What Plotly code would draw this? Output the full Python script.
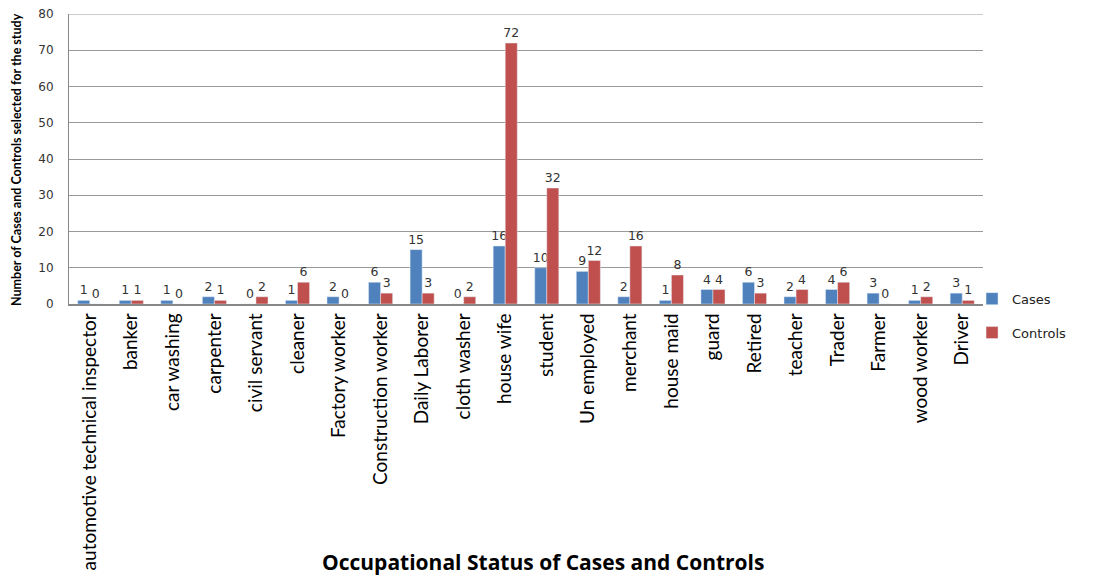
import plotly.graph_objects as go

categories = ["automotive technical inspector", "banker", "car washing", "carpenter",
              "civil servant", "cleaner", "Factory worker", "Construction worker",
              "Daily Laborer", "cloth washer", "house wife", "student", "Un employed",
              "merchant", "house maid", "guard", "Retired", "teacher", "Trader",
              "Farmer", "wood worker", "Driver"]
cases = [1, 1, 1, 2, 0, 1, 2, 6, 15, 0, 16, 10, 9, 2, 1, 4, 6, 2, 4, 3, 1, 3]
controls = [0, 1, 0, 1, 2, 6, 0, 3, 3, 2, 72, 32, 12, 16, 8, 4, 3, 4, 6, 0, 2, 1]
y_ticks = [0, 10, 20, 30, 40, 50, 60, 70, 80]

BLUE = "#4F81BD"
RED = "#C0504D"
label_font = dict(family="DejaVu Sans", size=12.5, color="#333333")

fig = go.Figure()
fig.add_trace(go.Bar(x=categories, y=cases, name="Cases", marker_color=BLUE,
                     legendgroup="cases",
                     text=cases, textposition="outside", textfont=label_font,
                     constraintext="none", cliponaxis=False))
fig.add_trace(go.Bar(x=categories, y=controls, name="Controls", marker_color=RED,
                     legendgroup="controls",
                     text=controls, textposition="outside", textfont=label_font,
                     constraintext="none", cliponaxis=False))

W, H = 1095, 577
fig.update_layout(
    width=W, height=H,
    margin=dict(l=61, r=120, t=6, b=281),
    paper_bgcolor="white", plot_bgcolor="white",
    barmode="group", bargap=0.42, bargroupgap=0,
    font=dict(family="Lato", color="#000000"),
    showlegend=True,
    legend=dict(x=0.988, y=0.07, xanchor="left", yanchor="top",
                font=dict(family="DejaVu Sans", size=13, color="#222222"),
                tracegroupgap=14, itemwidth=30, bgcolor="rgba(0,0,0,0)"),
)
fig.update_xaxes(
    tickangle=-90, tickfont=dict(family="Lato", size=19, color="#000000"),
    showline=True, linecolor="#888888", linewidth=1.5,
    showgrid=False, ticks="", automargin=False,
)
fig.update_yaxes(
    range=[0, 80], tickvals=y_ticks, tickfont=dict(family="DejaVu Sans", size=12, color="#333333"),
    ticklabelstandoff=12, ticklabeloverflow="allow",
    showgrid=True, gridcolor="#999999", gridwidth=1,
    showline=True, linecolor="#888888", linewidth=1, mirror=False,
    zeroline=False, ticks="", automargin=False,
)
fig.add_shape(type="line", xref="paper", yref="y", x0=0, x1=1, y0=80, y1=80,
              line=dict(color="#999999", width=1))
fig.add_annotation(text="<b>Occupational Status of Cases and Controls</b>",
                   xref="paper", yref="paper", x=0.519, y=-0.89,
                   xanchor="center", yanchor="middle", showarrow=False,
                   font=dict(family="Open Sans", size=21, color="#000000"))
fig.add_annotation(text="<b>Number of Cases and Controls selected for the study</b>",
                   xref="paper", yref="paper", x=-0.058, y=0.50, textangle=-90,
                   xanchor="center", yanchor="middle", showarrow=False,
                   font=dict(family="Lato", size=12.5, color="#000000"))

fig.write_html("out.html")
